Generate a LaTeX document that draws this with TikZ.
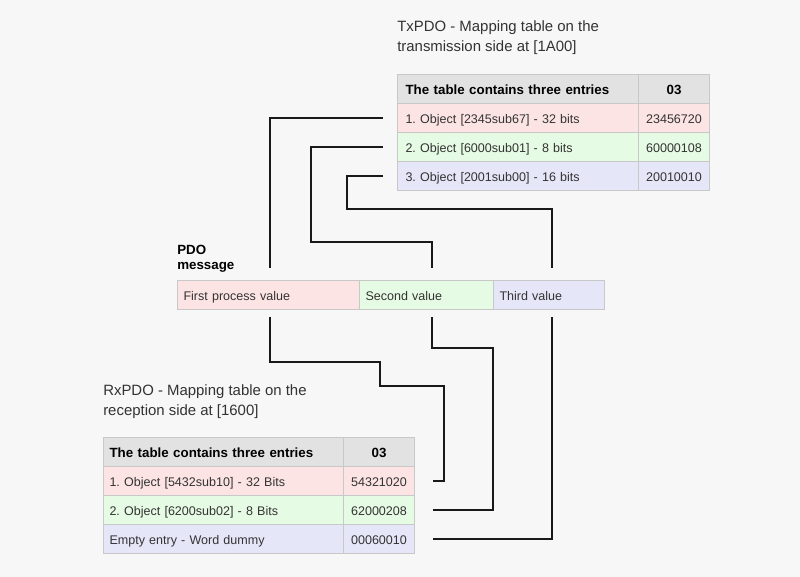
\documentclass[tikz,border=0pt]{standalone}
\usepackage{fontspec}
\setmainfont{Liberation Sans}
\usetikzlibrary{calc}
\frenchspacing
\newdimen\pxu \pxu=0.75pt
\definecolor{bg}{HTML}{F7F7F7}
\definecolor{hdr}{HTML}{E2E2E2}
\definecolor{pinkc}{HTML}{FDE4E4}
\definecolor{greenc}{HTML}{E6FBE4}
\definecolor{bluec}{HTML}{E6E6F9}
\definecolor{brd}{HTML}{C8C8C8}
\definecolor{txt}{HTML}{333333}
\tikzset{
  cell/.style={draw=brd, line width=1\pxu, anchor=north west, inner ysep=0pt,
    minimum height=29\pxu, text height=9pt, text depth=1.4pt, text=txt,
    font=\fontsize{9.4}{11}\selectfont, align=left},
  hcell/.style={cell, text=black, font=\fontsize{10}{12}\selectfont\bfseries},
  conn/.style={draw=black!90, line width=2.2\pxu},
  title/.style={anchor=west, inner sep=0pt, text=txt, font=\fontsize{11.2}{15}\selectfont},
}
\begin{document}
\frenchspacing
\begin{tikzpicture}[x=0.75pt,y=-0.75pt]
\fill[bg] (0,0) rectangle (800,577);
\useasboundingbox (0,0) rectangle (800,577);

% Top table (TxPDO)
\node[title] (txt1) at (397,28) {TxPDO - Mapping table on the};
\node[title] (txt2) at (397,48) {transmission side at [1A00]};
\node[hcell, fill=hdr, text width=225\pxu, inner xsep=8\pxu] (th1) at (397,74) {The table contains three entries};
\node[hcell, fill=hdr, text width=71\pxu, inner xsep=0pt, align=center] (th2) at (638,74) {03};
\node[cell, fill=pinkc, text width=225\pxu, inner xsep=8\pxu] (t1) at (397,103) {1. Object [2345sub67] - 32 bits};
\node[cell, fill=pinkc, text width=71\pxu, inner xsep=0pt, align=center] (t1v) at (638,103) {23456720};
\node[cell, fill=greenc, text width=225\pxu, inner xsep=8\pxu] (t2) at (397,132) {2. Object [6000sub01] - 8 bits};
\node[cell, fill=greenc, text width=71\pxu, inner xsep=0pt, align=center] (t2v) at (638,132) {60000108};
\node[cell, fill=bluec, text width=225\pxu, inner xsep=8\pxu] (t3) at (397,161) {3. Object [2001sub00] - 16 bits};
\node[cell, fill=bluec, text width=71\pxu, inner xsep=0pt, align=center] (t3v) at (638,161) {20010010};

% PDO message
\node[anchor=west, inner sep=0pt, align=left, font=\fontsize{10}{11.5}\selectfont\bfseries] (pdol) at (177,259) {PDO\\message};
\node[cell, fill=pinkc, text width=170\pxu, inner xsep=6\pxu] (p1) at (177,280) {First process value};
\node[cell, fill=greenc, text width=122\pxu, inner xsep=6\pxu] (p2) at (359,280) {Second value};
\node[cell, fill=bluec, text width=99\pxu, inner xsep=6\pxu] (p3) at (493,280) {Third value};

% Bottom table (RxPDO)
\node[title] (rxt1) at (103,392) {RxPDO - Mapping table on the};
\node[title] (rxt2) at (103,412) {reception side at [1600]};
\node[hcell, fill=hdr, text width=228\pxu, inner xsep=6\pxu] (bh1) at (103,437) {The table contains three entries};
\node[hcell, fill=hdr, text width=71\pxu, inner xsep=0pt, align=center] (bh2) at (343,437) {03};
\node[cell, fill=pinkc, text width=228\pxu, inner xsep=6\pxu] (b1) at (103,466) {1. Object [5432sub10] - 32 Bits};
\node[cell, fill=pinkc, text width=71\pxu, inner xsep=0pt, align=center] (b1v) at (343,466) {54321020};
\node[cell, fill=greenc, text width=228\pxu, inner xsep=6\pxu] (b2) at (103,495) {2. Object [6200sub02] - 8 Bits};
\node[cell, fill=greenc, text width=71\pxu, inner xsep=0pt, align=center] (b2v) at (343,495) {62000208};
\node[cell, fill=bluec, text width=228\pxu, inner xsep=6\pxu] (b3) at (103,524) {Empty entry - Word dummy};
\node[cell, fill=bluec, text width=71\pxu, inner xsep=0pt, align=center] (b3v) at (343,524) {00060010};

% connector end points
\coordinate (pa) at (270,268);
\coordinate (pb) at (432,268);
\coordinate (pc) at (552,268);
\coordinate (qa) at (270,317);
\coordinate (qb) at (432,317);
\coordinate (qc) at (552,317);

% Top connectors
\draw[conn] ($(t1.west)+(-14,0)$) -| (pa);
\draw[conn] ($(t2.west)+(-14,0)$) -| (311,242) -| (pb);
\draw[conn] ($(t3.west)+(-14,0)$) -| (347,209) -| (pc);

% Bottom connectors
\draw[conn] (qa) |- (380,362) |- (444,386) |- ($(b1v.east)+(18,0)$);
\draw[conn] (qb) |- (493,348) |- ($(b2v.east)+(18,0)$);
\draw[conn] (qc) |- ($(b3v.east)+(18,0)$);
\end{tikzpicture}
\end{document}
